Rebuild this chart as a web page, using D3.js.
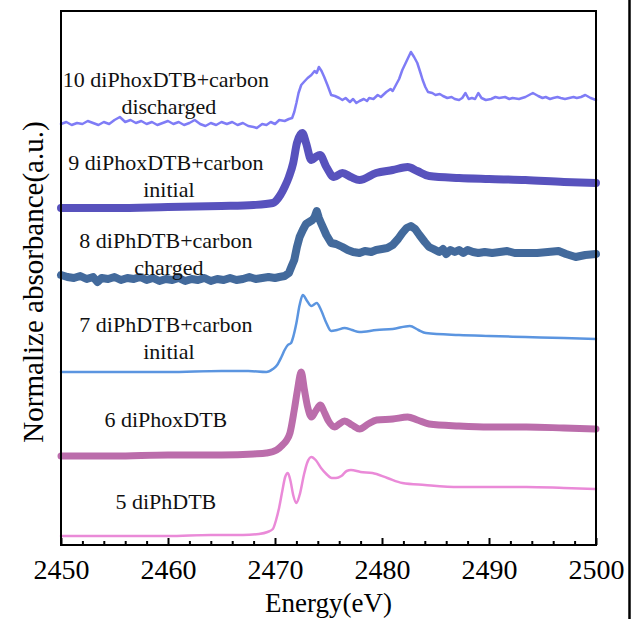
<!DOCTYPE html>
<html><head><meta charset="utf-8">
<script src="https://cdn.jsdelivr.net/npm/d3@7"></script>
<style>html,body{margin:0;padding:0;background:#fff;}svg{display:block;}</style>
</head><body>
<script>
const xTicks = [2450, 2460, 2470, 2480, 2490, 2500];
const seriesNames = ["5 diPhDTB","6 diPhoxDTB","7 diPhDTB+carbon\ninitial","8 diPhDTB+carbon\ncharged","9 diPhoxDTB+carbon\ninitial","10 diPhoxDTB+carbon\ndischarged"];

const s5 = [[2450,0.09],[2455,0.09],[2460,0.09],[2464,0.10],[2467,0.10],[2468.5,0.11],[2469.3,0.13],[2469.8,0.16],[2470.1,0.25],[2470.4,0.38],[2470.7,0.55],[2470.95,0.68],[2471.2,0.72],[2471.45,0.64],[2471.7,0.50],[2472.0,0.42],[2472.3,0.50],[2472.7,0.70],[2473.0,0.82],[2473.4,0.88],[2473.8,0.85],[2474.3,0.77],[2474.8,0.71],[2475.3,0.67],[2475.7,0.67],[2476.2,0.69],[2476.7,0.74],[2477.1,0.75],[2478.0,0.73],[2479.1,0.72],[2480.5,0.67],[2481.9,0.62],[2484,0.60],[2487.2,0.58],[2490,0.58],[2493.5,0.58],[2497,0.57],[2500,0.56]];

const s6 = [[2450,0.89],[2455,0.89],[2460,0.90],[2465,0.90],[2468,0.91],[2469.2,0.92],[2470.15,0.95],[2470.7,1.00],[2471.1,1.05],[2471.4,1.12],[2471.8,1.35],[2472.1,1.55],[2472.45,1.73],[2472.75,1.55],[2473.05,1.38],[2473.4,1.28],[2473.8,1.34],[2474.25,1.40],[2474.6,1.33],[2475.0,1.24],[2475.6,1.18],[2476.0,1.21],[2476.5,1.24],[2477.2,1.20],[2477.9,1.16],[2478.7,1.21],[2479.5,1.25],[2481,1.26],[2482.4,1.28],[2483.3,1.25],[2484.4,1.21],[2487.2,1.19],[2490,1.18],[2493.5,1.18],[2497,1.17],[2500,1.16]];

const s7 = [[2450,1.73],[2455,1.73],[2460,1.73],[2465,1.74],[2467.5,1.74],[2469.2,1.73],[2469.8,1.76],[2470.2,1.80],[2470.6,1.88],[2470.9,1.95],[2471.2,2.00],[2471.5,2.02],[2471.75,2.10],[2472.0,2.22],[2472.3,2.40],[2472.6,2.50],[2473.0,2.44],[2473.4,2.39],[2473.9,2.42],[2474.3,2.35],[2474.8,2.22],[2475.25,2.14],[2475.8,2.15],[2476.5,2.17],[2477.2,2.15],[2477.9,2.13],[2479.5,2.15],[2481.0,2.16],[2482.6,2.19],[2483.4,2.15],[2484.1,2.12],[2487.2,2.10],[2490,2.09],[2493.4,2.08],[2497,2.07],[2500,2.06]];

const s8 = [[2450,2.70],[2450.6,2.68],[2451.2,2.67],[2451.8,2.69],[2452.4,2.66],[2453,2.68],[2453.4,2.63],[2453.8,2.67],[2454.4,2.66],[2455,2.68],[2455.6,2.65],[2456.2,2.67],[2456.8,2.66],[2457.4,2.68],[2458,2.65],[2458.6,2.67],[2459.2,2.64],[2459.8,2.66],[2460.4,2.65],[2461,2.67],[2461.6,2.64],[2462.2,2.66],[2462.8,2.65],[2463.4,2.67],[2464,2.64],[2464.6,2.66],[2465.2,2.65],[2465.8,2.67],[2466.4,2.65],[2467,2.66],[2467.6,2.68],[2468.2,2.66],[2468.8,2.67],[2469.4,2.68],[2470,2.67],[2470.4,2.68],[2470.9,2.69],[2471.3,2.72],[2471.6,2.80],[2471.8,2.85],[2472.05,2.98],[2472.3,3.08],[2472.6,3.15],[2472.9,3.21],[2473.2,3.23],[2473.5,3.25],[2473.7,3.28],[2473.9,3.34],[2474.1,3.27],[2474.3,3.22],[2474.8,3.10],[2475.25,3.02],[2475.7,3.01],[2476.3,2.98],[2476.8,2.95],[2477.3,2.93],[2477.9,2.92],[2478.4,2.94],[2479,2.93],[2479.45,2.95],[2480,2.96],[2480.5,2.97],[2481.0,3.00],[2481.5,3.06],[2481.9,3.12],[2482.3,3.17],[2482.7,3.19],[2483.1,3.16],[2483.5,3.10],[2484.0,3.03],[2484.4,2.98],[2484.8,2.96],[2485.35,2.93],[2485.7,2.96],[2486,2.91],[2486.4,2.95],[2486.8,2.93],[2487.2,2.95],[2487.6,2.92],[2488,2.95],[2488.5,2.93],[2489,2.92],[2489.6,2.93],[2490.3,2.92],[2491,2.93],[2491.7,2.94],[2492.4,2.92],[2493.4,2.92],[2494.5,2.92],[2495.5,2.93],[2496.5,2.94],[2497.2,2.91],[2498.1,2.88],[2499,2.90],[2500,2.91]];

const s9 = [[2450,3.37],[2455,3.37],[2460,3.38],[2465,3.39],[2468,3.40],[2469.8,3.42],[2470.5,3.50],[2470.9,3.58],[2471.3,3.68],[2471.7,3.82],[2472.05,4.02],[2472.55,4.12],[2472.9,4.02],[2473.4,3.85],[2473.8,3.88],[2474.2,3.90],[2474.8,3.78],[2475.5,3.68],[2476.3,3.72],[2477.1,3.68],[2477.9,3.65],[2479.45,3.72],[2481,3.75],[2482.4,3.78],[2483.3,3.74],[2484.4,3.69],[2487.2,3.67],[2490,3.66],[2493.4,3.65],[2497,3.63],[2500,3.62]];

const s10 = [[2450,4.21],[2450.5,4.23],[2451,4.20],[2451.5,4.22],[2452,4.21],[2452.5,4.24],[2453,4.22],[2453.5,4.20],[2454,4.23],[2454.5,4.21],[2455,4.25],[2455.5,4.28],[2456,4.23],[2456.5,4.25],[2457,4.22],[2457.5,4.24],[2458,4.21],[2458.5,4.23],[2459,4.20],[2459.5,4.22],[2460,4.24],[2460.5,4.21],[2461,4.23],[2461.5,4.20],[2462,4.22],[2462.5,4.25],[2463,4.21],[2463.5,4.19],[2464,4.22],[2464.5,4.20],[2465,4.23],[2465.5,4.21],[2466,4.23],[2466.5,4.20],[2467,4.22],[2467.5,4.19],[2468,4.18],[2468.3,4.17],[2468.8,4.21],[2469.2,4.20],[2469.6,4.23],[2470,4.21],[2470.4,4.25],[2470.9,4.24],[2471.3,4.26],[2471.6,4.27],[2471.8,4.33],[2472.0,4.42],[2472.2,4.52],[2472.45,4.60],[2472.7,4.63],[2473.05,4.67],[2473.4,4.70],[2473.7,4.74],[2473.9,4.72],[2474.1,4.78],[2474.35,4.74],[2474.6,4.68],[2474.9,4.60],[2475.25,4.50],[2475.6,4.49],[2476.0,4.47],[2476.3,4.45],[2476.6,4.47],[2477.0,4.43],[2477.3,4.46],[2477.6,4.42],[2477.9,4.44],[2478.3,4.46],[2478.6,4.44],[2478.8,4.47],[2479.2,4.46],[2479.6,4.50],[2479.9,4.48],[2480.2,4.51],[2480.4,4.53],[2480.8,4.56],[2481.0,4.54],[2481.3,4.60],[2481.6,4.66],[2481.9,4.75],[2482.3,4.84],[2482.7,4.93],[2483.0,4.88],[2483.3,4.82],[2483.6,4.72],[2483.8,4.65],[2484.05,4.58],[2484.3,4.53],[2484.7,4.52],[2485.0,4.50],[2485.4,4.51],[2485.7,4.49],[2486.1,4.47],[2486.5,4.48],[2486.8,4.46],[2487.2,4.45],[2487.5,4.47],[2487.8,4.52],[2488.1,4.46],[2488.4,4.47],[2488.7,4.46],[2489.0,4.52],[2489.3,4.47],[2489.7,4.45],[2490.2,4.46],[2490.6,4.48],[2490.95,4.47],[2491.5,4.48],[2491.9,4.46],[2492.2,4.47],[2492.8,4.46],[2493.4,4.48],[2494.1,4.52],[2494.6,4.49],[2495.0,4.47],[2495.3,4.48],[2495.7,4.46],[2496,4.47],[2496.4,4.48],[2496.7,4.47],[2497.1,4.46],[2497.5,4.47],[2497.9,4.48],[2498.2,4.47],[2498.6,4.48],[2499.0,4.50],[2499.5,4.47],[2500,4.45]];

const seriesData = [s5, s6, s7, s8, s9, s10];
const seriesColors = ["#ea8ad8", "#bb6dab", "#5b95e0", "#436a9c", "#5852bd", "#7f7cf6"];
const seriesWidths = [2.5, 7, 2.5, 8, 8, 2.5];
const seriesSmooth = [true, true, true, false, true, false];
// label anchor positions in data units [energy, value]
const labelPos = [[2459.8, 0.36], [2459.8, 1.18], [2459.8, 2.13], [2459.8, 2.97], [2459.8, 3.75], [2459.8, 4.58]];

const W = 638, H = 619;
const margin = {left: 61, right: 42, top: 11, bottom: 74};
const svg = d3.select("body").append("svg").attr("width", W).attr("height", H);

const x = d3.scaleLinear().domain([2450, 2500]).range([margin.left, W - margin.right]);
const y = d3.scaleLinear().domain([0, 5.34]).range([H - margin.bottom, margin.top]);

const font = "'Liberation Serif','Times New Roman',serif";

// curves
seriesData.forEach((d, i) => {
  const line = d3.line().x(p => x(p[0])).y(p => y(p[1]))
    .curve(seriesSmooth[i] ? d3.curveMonotoneX : d3.curveLinear);
  svg.append("path").datum(d).attr("d", line)
    .attr("fill", "none").attr("stroke", seriesColors[i])
    .attr("stroke-width", seriesWidths[i])
    .attr("stroke-linejoin", "round").attr("stroke-linecap", "round");
});

// labels
seriesNames.forEach((name, i) => {
  const lines = name.split("\n");
  const t = svg.append("text")
    .attr("x", x(labelPos[i][0])).attr("y", y(labelPos[i][1]))
    .attr("text-anchor", "middle")
    .style("font-family", font).style("font-size", "22px").attr("fill", "#111");
  lines.forEach((l, j) => {
    t.append("tspan").attr("x", x(labelPos[i][0]) + (j ? 3 : 0)).attr("dy", j ? 27 : 0).text(l);
  });
});

// frame
svg.append("rect").attr("x", margin.left).attr("y", margin.top)
  .attr("width", W - margin.right - margin.left).attr("height", H - margin.bottom - margin.top)
  .attr("fill", "none").attr("stroke", "#000").attr("stroke-width", 2);

// x axis
const xAxis = d3.axisBottom(x).tickValues(xTicks).tickSize(-7).tickPadding(14).tickFormat(d3.format("d"));
const gx = svg.append("g").attr("transform", `translate(0,${H - margin.bottom})`).call(xAxis);
gx.select(".domain").remove();
gx.selectAll(".tick line").attr("stroke", "#000").attr("stroke-width", 2);
gx.selectAll(".tick text").style("font-family", font).style("font-size", "28px").attr("fill", "#000");

const minor = d3.range(2452, 2500, 2).filter(v => v % 10 !== 0);
const xMinor = d3.axisBottom(x).tickValues(minor).tickSize(-4).tickFormat("");
const gm = svg.append("g").attr("transform", `translate(0,${H - margin.bottom})`).call(xMinor);
gm.select(".domain").remove();
gm.selectAll(".tick line").attr("stroke", "#000").attr("stroke-width", 2);

// axis titles
svg.append("text").attr("x", (margin.left + W - margin.right) / 2).attr("y", 612)
  .attr("text-anchor", "middle").style("font-family", font).style("font-size", "27px")
  .text("Energy(eV)");
svg.append("text").attr("transform", "translate(43,282) rotate(-90)")
  .attr("text-anchor", "middle").style("font-family", font).style("font-size", "29px")
  .text("Normalize absorbance(a.u.)");

// right border bar from the source image
svg.append("line").attr("x1", 629.5).attr("x2", 629.5).attr("y1", 0).attr("y2", H)
  .attr("stroke", "#000").attr("stroke-width", 2.5);
</script>
</body></html>
